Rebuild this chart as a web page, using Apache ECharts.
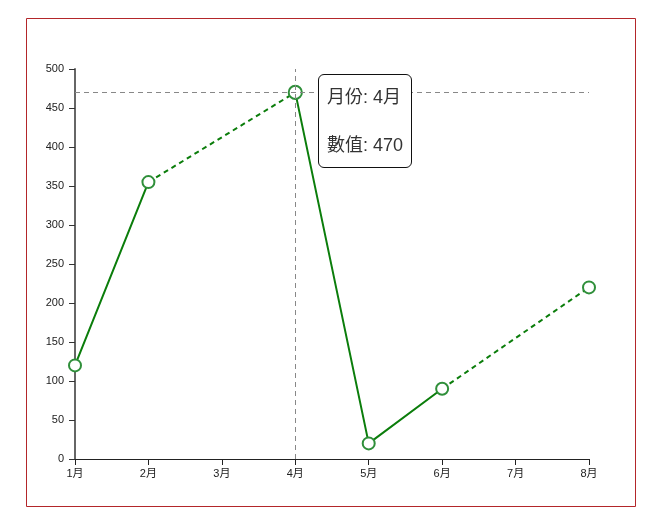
<!DOCTYPE html>
<html><head><meta charset="utf-8">
<script src="https://cdn.jsdelivr.net/npm/echarts@6/dist/echarts.min.js"></script>
<style>html,body{margin:0;padding:0;background:#fff}#c{width:652px;height:532px}</style>
</head><body><div id="c"></div>
<script>
const months = ['1月','2月','3月','4月','5月','6月','7月','8月'];
const values = [120, 355, null, 470, 20, 90, null, 220];
const yTicks = [0, 50, 100, 150, 200, 250, 300, 350, 400, 450, 500];

// dashed bridges across missing months
const bridges = [];
for (let i = 0; i < values.length; i++) {
  if (values[i] == null) {
    let a = i - 1, b = i + 1;
    while (b < values.length && values[b] == null) b++;
    if (a >= 0 && b < values.length) {
      const d = values.map(() => null);
      d[a] = values[a]; d[b] = values[b];
      bridges.push(d);
    }
  }
}
const chart = echarts.init(document.getElementById('c'), null, {renderer: 'canvas'});
const series = [{
  type: 'line', data: values, connectNulls: false,
  symbol: 'emptyCircle', symbolSize: 12,
  lineStyle: {color: '#0b7d0b', width: 2},
  itemStyle: {color: '#2f8f3a', borderColor: '#2f8f3a', borderWidth: 2.5},
  emphasis: {disabled: true}, z: 3
}];
bridges.forEach(d => series.push({
  type: 'line', data: d, connectNulls: true, symbol: 'none',
  lineStyle: {color: '#0b7d0b', width: 2, type: [5, 4]},
  emphasis: {disabled: true}, tooltip: {show: false}, z: 2
}));
chart.setOption({
  animation: false,
  graphic: [{type: 'rect', shape: {x: 26.5, y: 18.5, width: 609, height: 488},
    style: {fill: 'none', stroke: '#b3262a', lineWidth: 1}, silent: true}],
  grid: {left: 75, right: 63, top: 69, bottom: 73, containLabel: false},
  xAxis: {type: 'category', data: months, boundaryGap: false,
    axisLine: {lineStyle: {color: '#222', width: 1}},
    axisTick: {show: true, alignWithLabel: true, length: 6, lineStyle: {color: '#222'}},
    axisLabel: {color: '#222', fontSize: 11, margin: 9, fontFamily: 'Liberation Sans, Noto Sans CJK TC'},
    splitLine: {show: false}},
  yAxis: {type: 'value', min: yTicks[0], max: yTicks[yTicks.length - 1], interval: 50,
    axisLine: {show: true, lineStyle: {color: '#666', width: 2}},
    axisTick: {show: true, length: 6, lineStyle: {color: '#333', width: 1}},
    axisLabel: {color: '#222', fontSize: 11, margin: 11, fontFamily: 'Liberation Sans, Arial'},
    splitLine: {show: false}},
  tooltip: {trigger: 'axis', alwaysShowContent: true, transitionDuration: 0,
    axisPointer: {type: 'cross', label: {show: false},
      lineStyle: {color: '#888', type: [5, 4], width: 1},
      crossStyle: {color: '#888', type: [5, 4], width: 1}},
    backgroundColor: '#fff', borderColor: '#111', borderWidth: 1, borderRadius: 6,
    padding: [10, 8], extraCssText: 'box-shadow:none;',
    textStyle: {color: '#333', fontSize: 18},
    position: function (p) { return [p[0] + 23, p[1] - 18]; },
    formatter: function (params) {
      const p = params.find(x => x.seriesIndex === 0) || params[0];
      return '<div style="line-height:24px;font-size:18px;color:#333;font-family:Liberation Sans, Noto Sans CJK TC">月份: ' + p.name + '<br/><br/>數值: ' + p.value + '</div>';
    }},
  series: series
});
chart.dispatchAction({type: 'showTip', seriesIndex: 0, dataIndex: 3});
</script></body></html>
